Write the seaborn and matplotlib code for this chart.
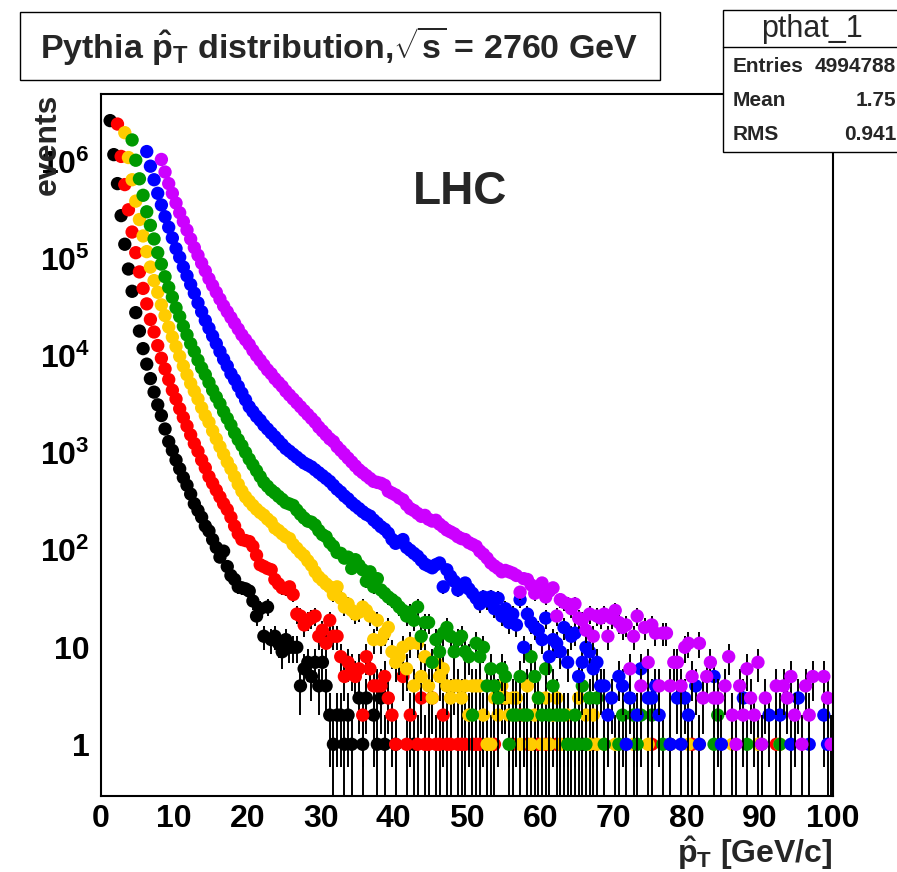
import numpy as np
import pandas as pd
import matplotlib
matplotlib.use("Agg")
import matplotlib.pyplot as plt
import seaborn as sns
from matplotlib.patches import Rectangle
from matplotlib.lines import Line2D
from matplotlib.ticker import FixedLocator, LogLocator, MultipleLocator, NullFormatter

# ---------------- data: 200 bins of 0.5 GeV/c from 0 to 100 ----------------
bin_width = 0.5
n_bins = 200

black = [
    0, 0, 2690000, 1200000, 603000, 282000, 143000, 79400, 46800, 28200,
    18200, 12000, 8300, 5890, 4270, 3160, 2450, 1780, 1320, 1070,
    851, 692, 562, 468, 380, 302, 257, 219, 178, 158,
    129, 107, 85, 98, 68, 55, 50, 42, 41, 40,
    38, 30, 21, 25, 13, 26, 12, 13, 11, 9,
    12, 10, 10, 10, 4, 6, 7, 5, 7, 4,
    7, 4, 2, 1, 2, 2, 1, 2, 1, 0,
    3, 1, 3, 0, 2, 1, 3, 1, 0, 0,
    1, 0, 0, 0, 0, 1, 0, 0, 0, 0,
    0, 0, 0, 0, 0, 0, 0, 0, 0, 0,
    0, 0, 0, 0, 0, 0, 0, 0, 0, 0,
    0, 0, 0, 0, 0, 0, 0, 0, 0, 0,
    0, 0, 0, 0, 0, 0, 0, 0, 0, 0,
    0, 1, 0, 0, 0, 0, 0, 0, 0, 0,
    0, 0, 0, 0, 0, 0, 0, 0, 0, 0,
    0, 0, 0, 0, 0, 1, 0, 0, 0, 0,
    0, 0, 0, 0, 0, 0, 0, 0, 0, 0,
    0, 0, 0, 0, 0, 0, 0, 0, 0, 0,
    0, 0, 0, 0, 0, 0, 0, 0, 0, 0,
    0, 0, 0, 0, 0, 0, 0, 0, 0, 0,
]

red = [
    0, 0, 0, 0, 2480000, 1150000, 589000, 324000, 191000, 117000,
    74100, 50100, 34700, 24000, 17800, 12900, 9550, 7410, 5750, 4470,
    3630, 2880, 2340, 1910, 1550, 1260, 1050, 851, 708, 575,
    490, 417, 355, 302, 263, 219, 178, 148, 129, 126,
    123, 110, 89, 71, 68, 65, 63, 50, 45, 41,
    40, 42, 35, 22, 21, 17, 19, 20, 21, 13,
    15, 11, 19, 13, 13, 8, 5, 7, 6, 5,
    6, 2, 8, 6, 4, 4, 4, 5, 3, 2,
    1, 0, 5, 1, 2, 0, 1, 3, 1, 1,
    3, 1, 1, 2, 1, 1, 0, 1, 1, 1,
    0, 1, 1, 1, 0, 1, 0, 1, 0, 3,
    3, 0, 1, 0, 2, 0, 1, 0, 1, 1,
    0, 1, 1, 0, 1, 0, 0, 0, 1, 0,
    0, 0, 0, 0, 1, 0, 0, 0, 0, 0,
    0, 0, 0, 0, 0, 0, 0, 0, 0, 0,
    1, 0, 0, 0, 0, 0, 0, 0, 0, 0,
    0, 1, 0, 0, 0, 0, 0, 0, 0, 0,
    0, 0, 0, 0, 0, 0, 0, 0, 0, 0,
    0, 0, 0, 0, 1, 0, 0, 0, 0, 0,
    0, 0, 0, 0, 0, 0, 0, 0, 0, 0,
]

yellow = [
    0, 0, 0, 0, 0, 0, 2020000, 1120000, 661000, 398000,
    257000, 174000, 120000, 83200, 60300, 45700, 33900, 26300, 20000, 15800,
    12600, 10000, 7940, 6460, 5250, 4370, 3630, 2950, 2450, 2090,
    1700, 1410, 1170, 977, 813, 692, 575, 479, 407, 355,
    320, 290, 265, 245, 230, 210, 195, 170, 160, 148,
    138, 132, 115, 105, 95, 88, 78, 70, 60, 53,
    49, 45, 42, 35, 42, 32, 26, 28, 24, 22,
    23, 26, 24, 21, 12, 19, 12, 14, 16, 9,
    7, 8, 10, 6, 11, 4, 11, 5, 8, 4,
    3, 7, 5, 6, 4, 3, 4, 4, 3, 4,
    2, 4, 4, 4, 2, 1, 1, 3, 2, 4,
    3, 2, 3, 3, 1, 2, 4, 1, 2, 3,
    1, 3, 1, 2, 3, 1, 1, 2, 0, 1,
    3, 0, 2, 1, 2, 1, 0, 1, 0, 0,
    1, 0, 0, 0, 0, 1, 0, 0, 0, 1,
    0, 0, 0, 0, 0, 0, 0, 0, 0, 0,
    1, 0, 0, 1, 0, 0, 0, 0, 0, 0,
    0, 0, 1, 0, 0, 0, 0, 0, 0, 1,
    0, 0, 0, 0, 0, 1, 0, 0, 0, 0,
    0, 0, 0, 0, 0, 0, 0, 0, 0, 0,
]

green = [
    0, 0, 0, 0, 0, 0, 0, 0, 1700000, 1050000,
    676000, 457000, 309000, 224000, 162000, 117000, 89100, 66100, 51300, 40700,
    31600, 25700, 20400, 16600, 13500, 11200, 9120, 7590, 6460, 5370,
    4470, 3800, 3240, 2690, 2290, 1950, 1620, 1380, 1200, 1020,
    871, 759, 661, 575, 501, 457, 417, 390, 360, 335,
    310, 300, 290, 260, 235, 215, 200, 195, 182, 160,
    145, 138, 120, 110, 95, 93, 83, 85, 65, 80,
    70, 63, 48, 60, 42, 51, 39, 36, 33, 31,
    29, 26, 24, 21, 23, 19, 26, 13, 18, 18,
    7, 12, 9, 14, 16, 13, 9, 12, 13, 9,
    8, 2, 11, 8, 10, 4, 6, 4, 3, 6,
    5, 1, 2, 2, 5, 2, 2, 8, 5, 3,
    2, 6, 2, 4, 2, 2, 2, 1, 1, 2,
    1, 4, 1, 3, 0, 3, 0, 1, 0, 0,
    0, 1, 2, 0, 0, 2, 1, 2, 0, 0,
    2, 0, 0, 1, 0, 0, 0, 0, 0, 0,
    0, 0, 0, 0, 0, 0, 0, 1, 2, 0,
    0, 0, 0, 0, 0, 0, 1, 0, 0, 0,
    1, 0, 0, 0, 0, 1, 0, 0, 0, 0,
    0, 0, 0, 0, 0, 0, 0, 0, 0, 0,
]

blue = [
    0, 0, 0, 0, 0, 0, 0, 0, 0, 0,
    0, 0, 1290000, 912000, 661000, 479000, 363000, 275000, 214000, 166000,
    129000, 105000, 83200, 67600, 55000, 44700, 35500, 28800, 23400, 19500,
    16200, 13500, 11200, 9330, 7940, 6610, 5750, 4900, 4170, 3550,
    3020, 2690, 2400, 2190, 1950, 1780, 1620, 1480, 1350, 1230,
    1120, 1050, 977, 912, 851, 794, 759, 724, 676, 631,
    589, 550, 513, 468, 427, 398, 363, 339, 309, 288,
    269, 250, 235, 225, 205, 190, 175, 165, 150, 130,
    118, 123, 129, 107, 100, 93, 87, 79, 72, 69,
    66, 71, 74, 42, 63, 54, 48, 39, 42, 46,
    40, 36, 32, 28, 33, 30, 33, 25, 32, 21,
    25, 18, 22, 17, 31, 10, 22, 18, 16, 15,
    12, 20, 8, 12, 11, 9, 16, 7, 13, 14,
    5, 7, 10, 9, 6, 7, 4, 4, 2, 3,
    0, 5, 4, 1, 3, 0, 2, 6, 0, 3,
    3, 4, 2, 0, 0, 1, 0, 3, 1, 3,
    2, 0, 4, 1, 0, 0, 0, 5, 0, 1,
    0, 0, 0, 0, 0, 3, 0, 0, 0, 0,
    0, 0, 2, 0, 0, 2, 0, 0, 1, 0,
    3, 0, 0, 1, 0, 0, 0, 2, 1, 0,
]

magenta = [
    0, 0, 0, 0, 0, 0, 0, 0, 0, 0,
    0, 0, 0, 0, 0, 0, 1070000, 794000, 603000, 479000,
    380000, 302000, 245000, 200000, 162000, 132000, 110000, 91200, 75900, 63100,
    53700, 45700, 38900, 33100, 28800, 25100, 21900, 19100, 16600, 14800,
    13200, 11500, 10200, 9120, 8130, 7240, 6610, 5890, 5370, 4900,
    4370, 3980, 3630, 3310, 3020, 2750, 2510, 2290, 2090, 1860,
    1700, 1550, 1410, 1320, 1170, 1070, 977, 891, 813, 741,
    676, 631, 589, 550, 513, 501, 490, 468, 407, 389,
    372, 347, 331, 295, 269, 257, 240, 224, 229, 209,
    200, 204, 186, 174, 162, 155, 148, 138, 132, 129,
    120, 115, 110, 98, 91, 83, 74, 69, 65, 60,
    62, 60, 58, 55, 37, 51, 50, 44, 36, 42,
    46, 33, 38, 41, 21, 31, 29, 28, 25, 28,
    20, 19, 15, 22, 13, 21, 20, 22, 13, 20,
    24, 18, 16, 17, 6, 13, 21, 4, 16, 7,
    17, 14, 4, 14, 14, 4, 7, 7, 4, 10,
    11, 5, 0, 11, 3, 5, 7, 3, 3, 0,
    4, 8, 2, 1, 4, 2, 6, 3, 2, 7,
    1, 3, 0, 0, 4, 0, 4, 3, 5, 2,
    0, 1, 4, 2, 5, 0, 0, 5, 3, 1,
]

series_names = ["black", "red", "yellow", "green", "blue", "magenta"]
series_counts = [black, red, yellow, green, blue, magenta]
series_colors = ["#000000", "#ff0000", "#ffcc00", "#009900", "#0000ff", "#cc00ff"]

x_tick_values = [0, 10, 20, 30, 40, 50, 60, 70, 80, 90, 100]
y_tick_values = [1, 10, 100, 1e3, 1e4, 1e5, 1e6]
y_tick_labels = ["1", "10", r"$10^{2}$", r"$10^{3}$", r"$10^{4}$", r"$10^{5}$", r"$10^{6}$"]

stats_title = "pthat_1"
stats_rows = [("Entries", "4994788"), ("Mean", "1.75"), ("RMS", "0.941")]

# ---------------- style ----------------
sns.set_theme(style="white")
plt.rcParams["font.family"] = ["Liberation Sans", "DejaVu Sans"]
plt.rcParams["font.weight"] = "bold"
plt.rcParams["mathtext.fontset"] = "custom"
plt.rcParams["mathtext.rm"] = "Liberation Sans:bold"
plt.rcParams["mathtext.it"] = "Liberation Sans:bold"
plt.rcParams["mathtext.bf"] = "Liberation Sans:bold"
plt.rcParams["mathtext.sf"] = "Liberation Sans:bold"
plt.rcParams["axes.unicode_minus"] = False

W, H = 897, 872
fig = plt.figure(figsize=(W / 100, H / 100), dpi=100, facecolor="white")
ax_l, ax_r, ax_t, ax_b = 101, 833, 94, 796
ax = fig.add_axes([ax_l / W, 1 - ax_b / H, (ax_r - ax_l) / W, (ax_b - ax_t) / H])
ax.set_facecolor("white")
ax.set_yscale("log")
ymin, ymax = 0.293, 5.06e6
ax.set_xlim(0, 100)
ax.set_ylim(ymin, ymax)

centers = bin_width * (np.arange(n_bins) + 0.5)
rows = []
for name, counts in zip(series_names, series_counts):
    for xc, n in zip(centers, counts):
        if n > 0:
            rows.append((name, xc, float(n)))
df = pd.DataFrame(rows, columns=["series", "pt", "events"])

for k, (name, color) in enumerate(zip(series_names, series_colors)):
    d = df[df["series"] == name]
    err = np.sqrt(d["events"].values)
    lo = np.maximum(d["events"].values - err, ymin * 0.3)
    hi = d["events"].values + err
    ax.vlines(d["pt"].values, lo, hi, colors="black", linewidth=1.4, zorder=2 + 2 * k)
    sns.scatterplot(data=d, x="pt", y="events", color=color, s=92, linewidth=0,
                    edgecolor="none", ax=ax, zorder=3 + 2 * k, legend=False)

# ---------------- axes / ticks ----------------
for sp in ax.spines.values():
    sp.set_linewidth(1.5)
    sp.set_color("black")
    sp.set_zorder(20)

ax.xaxis.set_major_locator(FixedLocator(x_tick_values))
ax.xaxis.set_minor_locator(MultipleLocator(2))
ax.set_xticklabels([str(v) for v in x_tick_values])
ax.yaxis.set_major_locator(FixedLocator(y_tick_values))
ax.set_yticklabels(y_tick_labels)
ax.yaxis.set_minor_locator(LogLocator(base=10, subs=np.arange(2, 10), numticks=100))
ax.yaxis.set_minor_formatter(NullFormatter())

ax.tick_params(axis="both", which="both", direction="in", top=False, right=False,
               colors="black", width=1.3, labelsize=23)
ax.tick_params(axis="x", which="major", length=14.5, pad=6)
ax.tick_params(axis="x", which="minor", length=6.5)
ax.tick_params(axis="y", which="major", length=16, pad=8)
ax.tick_params(axis="y", which="minor", length=8)
for lab in ax.get_xticklabels() + ax.get_yticklabels():
    lab.set_fontweight("bold")

ax.set_xlabel(r"$\hat{p}_{T}$ [GeV/c]", fontsize=23, fontweight="bold", loc="right", labelpad=0)
ax.set_ylabel("events", fontsize=23, fontweight="bold", loc="top")
ax.yaxis.set_label_coords(-0.052, 1.0)

ax.text(0.49, 0.86, "LHC", transform=ax.transAxes, fontsize=33, fontweight="bold",
        ha="center", va="center", zorder=30)

# ---------------- title box ----------------
fig.add_artist(Rectangle((20 / W, 1 - 80 / H), 640 / W, 68 / H, transform=fig.transFigure,
                         facecolor="white", edgecolor="black", linewidth=1.0, zorder=5))
fig.text(339 / W, 1 - 46 / H, r"Pythia $\hat{p}_{T}$ distribution,$\sqrt{s}$ = 2760 GeV",
         fontsize=24.5, fontweight="bold", ha="center", va="center", zorder=6)

# ---------------- stats box ----------------
sx0, sy0, sy1 = 723, 10, 152
fig.add_artist(Rectangle((sx0 / W, 1 - sy1 / H), (W + 10 - sx0) / W, (sy1 - sy0) / H,
                         transform=fig.transFigure, facecolor="white", edgecolor="black",
                         linewidth=1.0, zorder=5, clip_on=False))
fig.add_artist(Line2D([sx0 / W, 1.0], [1 - 47 / H, 1 - 47 / H], transform=fig.transFigure,
                      color="black", linewidth=1.0, zorder=6))
fig.text(812 / W, 1 - 29 / H, stats_title, fontsize=22, fontweight="normal",
         ha="center", va="center", zorder=7)
for j, (lab, val) in enumerate(stats_rows):
    yy = 1 - (66 + 34 * j) / H
    fig.text(733 / W, yy, lab, fontsize=15, fontweight="bold", ha="left", va="center", zorder=7)
    fig.text(896 / W, yy, val, fontsize=15, fontweight="bold", ha="right", va="center", zorder=7)

fig.savefig("out.png", dpi=100, facecolor="white")
